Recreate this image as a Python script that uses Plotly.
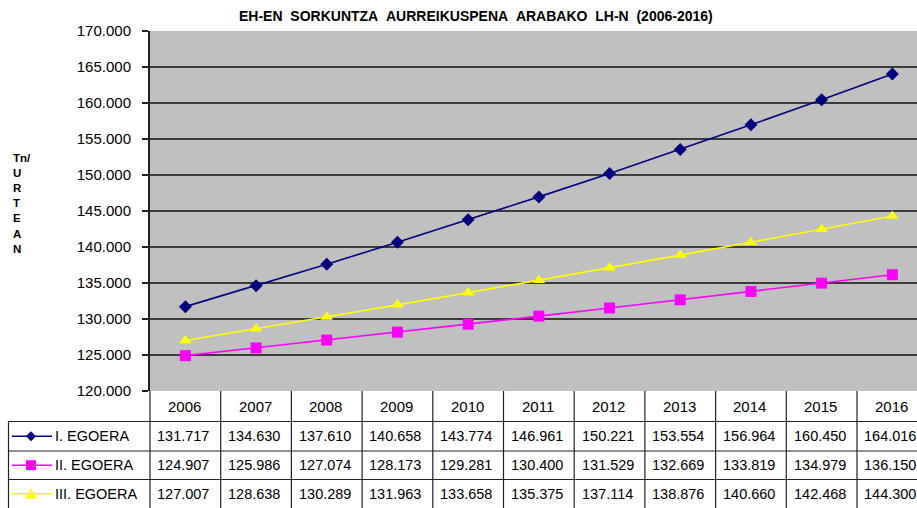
import plotly.graph_objects as go

years = ["2006", "2007", "2008", "2009", "2010", "2011", "2012", "2013", "2014", "2015", "2016"]
egoera_1 = [131717, 134630, 137610, 140658, 143774, 146961, 150221, 153554, 156964, 160450, 164016]
egoera_2 = [124907, 125986, 127074, 128173, 129281, 130400, 131529, 132669, 133819, 134979, 136150]
egoera_3 = [127007, 128638, 130289, 131963, 133658, 135375, 137114, 138876, 140660, 142468, 144300]
series_names = ["I. EGOERA", "II. EGOERA", "III. EGOERA"]
title_text = "EH-EN SORKUNTZA AURREIKUSPENA ARABAKO LH-N (2006-2016)"
y_title_lines = ["Tn/", "U", "R", "T", "E", "A", "N"]

W, H = 917, 508
L, R, T, B = 150, 0, 31, 508 - 391
PW, PH = W - L - R, H - T - B
COLW = 70.7
XR = [-0.5, -0.5 + PW / COLW]

def px(X):
    return (X - L) / PW

def py(Y):
    return (391 - Y) / PH

def cx(i, shift_px=0.0):
    return (i - XR[0]) / (XR[1] - XR[0]) + shift_px / PW

FONT = "Arial, Liberation Sans, sans-serif"
colors = ["#000080", "#FF00FF", "#FFFF00"]
symbols = ["diamond", "square", "triangle-up"]
msizes = [10, 11, 11]
data = [egoera_1, egoera_2, egoera_3]

fig = go.Figure()
xs = list(range(len(years)))
for name, vals, c, s, ms in zip(series_names, data, colors, symbols, msizes):
    fig.add_trace(go.Scatter(
        x=xs, y=vals, mode="lines+markers", name=name,
        line=dict(color=c, width=1.6),
        marker=dict(symbol=s, size=ms, color=c, line=dict(width=0)),
        cliponaxis=False,
    ))

shapes = []
annotations = []
line_c = "#222222"
row_tops = [391, 421.5, 451, 479.5, 508]
shapes.append(dict(type="line", xref="paper", yref="paper", x0=0, x1=1.05, y0=py(421.5), y1=py(421.5), line=dict(color=line_c, width=1.2)))
for yy in [421.5, 451, 479.5]:
    shapes.append(dict(type="line", xref="paper", yref="paper", x0=px(8), x1=1.05, y0=py(yy), y1=py(yy), line=dict(color=line_c, width=1.2)))
for i in range(len(years) + 1):
    xp = cx(i - 0.5)
    if xp > 1.02:
        continue
    shapes.append(dict(type="line", xref="paper", yref="paper", x0=xp, x1=xp, y0=0, y1=py(510), line=dict(color=line_c, width=1.2)))
shapes.append(dict(type="line", xref="paper", yref="paper", x0=px(8.5), x1=px(8.5), y0=py(421.5), y1=py(510), line=dict(color=line_c, width=1.2)))

YEARSIZE = 15
VALSIZE = 14.5
for i, yr in enumerate(years):
    annotations.append(dict(x=cx(i, -1), y=py(406), xref="paper", yref="paper", text=yr, showarrow=False,
                            font=dict(family=FONT, size=YEARSIZE, color="black"), xanchor="center", yanchor="middle"))

def fmt(v):
    return f"{v:,}".replace(",", ".")

for r, vals in enumerate(data):
    yc = (row_tops[r + 1] + row_tops[r + 2]) / 2
    for i, v in enumerate(vals):
        annotations.append(dict(x=cx(i, -2), y=py(yc), xref="paper", yref="paper", text=fmt(v), showarrow=False,
                                font=dict(family=FONT, size=VALSIZE, color="black"), xanchor="center", yanchor="middle"))
    shapes.append(dict(type="line", xref="paper", yref="paper", x0=px(12), x1=px(52), y0=py(yc), y1=py(yc),
                       line=dict(color=colors[r], width=1.6)))
    m = 5
    xc0, yc0 = 31, yc
    if r == 0:
        pts = [(xc0, yc0 - m), (xc0 + m, yc0), (xc0, yc0 + m), (xc0 - m, yc0)]
    elif r == 1:
        pts = [(xc0 - m, yc0 - m), (xc0 + m, yc0 - m), (xc0 + m, yc0 + m), (xc0 - m, yc0 + m)]
    else:
        pts = [(xc0, yc0 - m - 1), (xc0 + m + 1, yc0 + m), (xc0 - m - 1, yc0 + m)]
    path = "M " + " L ".join(f"{px(a):.5f},{py(b):.5f}" for a, b in pts) + " Z"
    shapes.append(dict(type="path", xref="paper", yref="paper", path=path, fillcolor=colors[r], line=dict(width=0)))
    annotations.append(dict(x=px(53), y=py(yc), xref="paper", yref="paper", text=series_names[r], showarrow=False,
                            font=dict(family=FONT, size=VALSIZE, color="black"), xanchor="left", yanchor="middle"))

title_html = "<b>" + title_text.replace(" ", "&nbsp;&nbsp;") + "</b>"
annotations.append(dict(x=px(476), y=py(16), xref="paper", yref="paper", text=title_html, showarrow=False,
                        font=dict(family=FONT, size=14, color="black"), xanchor="center", yanchor="middle"))
for k, t in enumerate(y_title_lines):
    annotations.append(dict(x=px(11), y=py(158 + 15.1 * k), xref="paper", yref="paper", text="<b>" + t + "</b>", showarrow=False,
                            font=dict(family=FONT, size=11.5, color="black"), xanchor="left", yanchor="middle"))

fig.update_layout(
    width=W, height=H, autosize=False,
    margin=dict(l=L, r=R, t=T, b=B, pad=0),
    paper_bgcolor="white", plot_bgcolor="#C0C0C0",
    showlegend=False,
    separators=",.",
    hovermode=False,
    xaxis=dict(range=XR, showticklabels=False, showgrid=False, zeroline=False, ticks="",
               showline=False, fixedrange=True),
    yaxis=dict(range=[120000, 170000], dtick=5000, tickformat=",d", showgrid=True,
               gridcolor="#3c3c3c", gridwidth=1.3, zeroline=False, showline=True, linecolor="#222222", linewidth=2,
               ticks="outside", ticklen=6, tickcolor="#222222", tickwidth=1.2,
               tickfont=dict(family=FONT, size=YEARSIZE, color="black"), ticklabelstandoff=8, fixedrange=True),
    shapes=shapes, annotations=annotations,
)

fig.write_html("out.html", config={"displayModeBar": False, "staticPlot": True},
               post_script="document.body.style.margin='0';document.body.style.padding='0';document.body.style.overflow='hidden';document.documentElement.style.overflow='hidden';")
